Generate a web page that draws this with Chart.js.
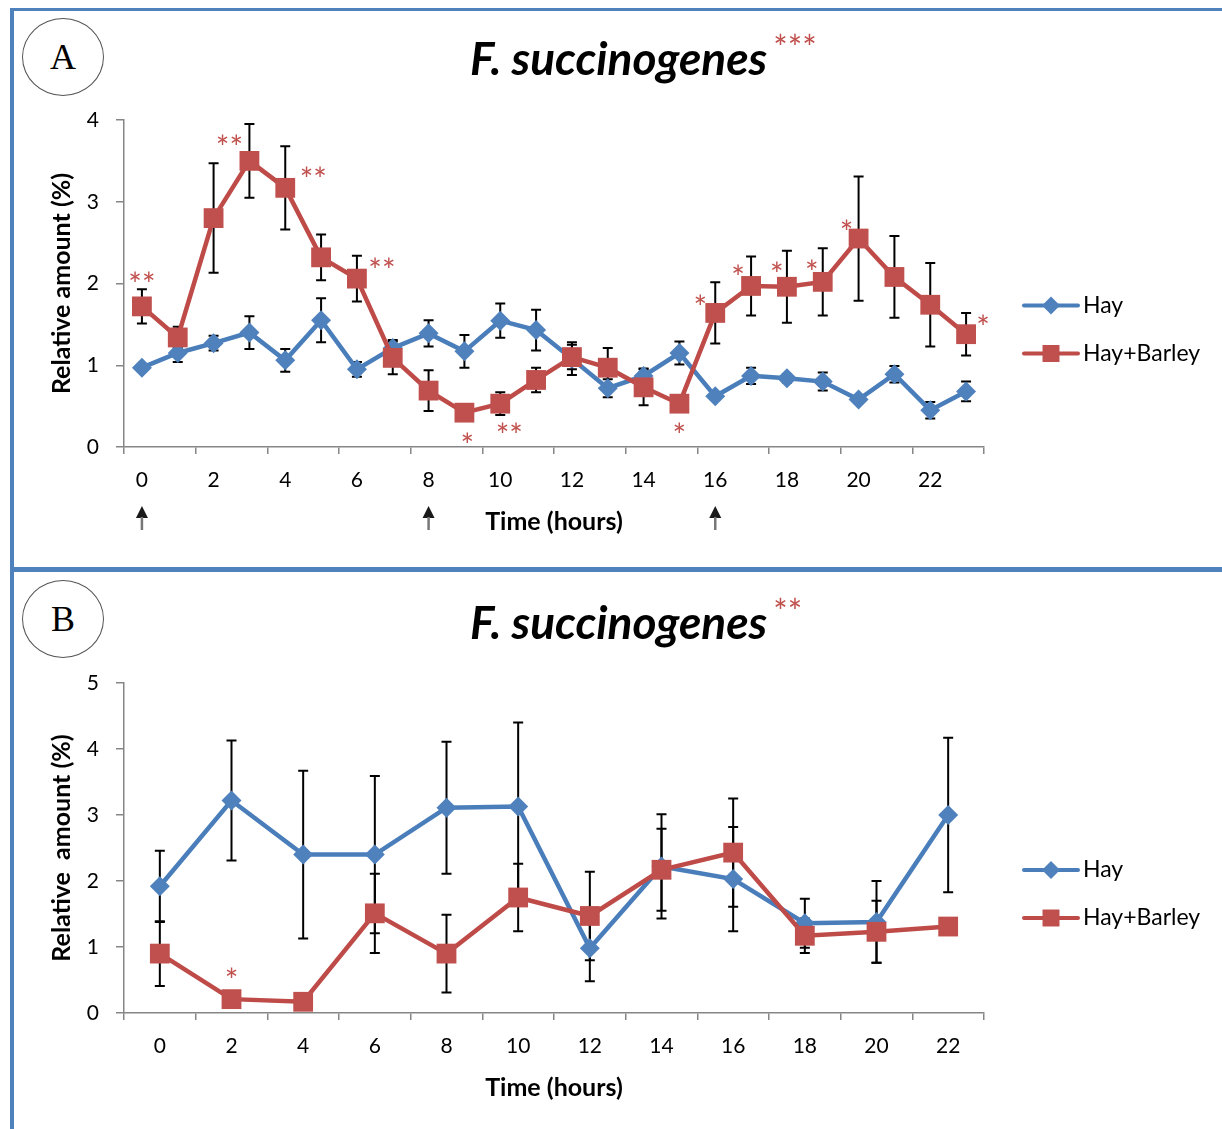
<!DOCTYPE html>
<html>
<head>
<meta charset="utf-8">
<title>F. succinogenes relative amount</title>
<script src="https://cdn.jsdelivr.net/npm/chart.js@4.4.1/dist/chart.umd.min.js"></script>
<style>
html,body{margin:0;padding:0;background:#fff;}
#page{position:relative;width:1222px;height:1129px;overflow:hidden;background:#fff;}
.frame-left{position:absolute;left:10px;top:8px;width:4px;height:1121px;background:#4f81bd;}
.frame-top{position:absolute;left:10px;top:8px;right:0;height:3px;background:#4f81bd;}
.frame-mid{position:absolute;left:10px;top:567px;right:0;height:5px;background:#4f81bd;}
.badge{position:absolute;left:22px;width:82px;height:78px;box-sizing:border-box;border:1.5px solid #555;border-radius:50%;
  font:36px "Liberation Serif",serif;color:#000;display:flex;align-items:center;justify-content:center;}
canvas{position:absolute;left:0;}
</style>
</head>
<body>
<div id="page">
  <div class="frame-left"></div>
  <div class="frame-top"></div>
  <div class="frame-mid"></div>
  <div class="badge" style="top:18px">A</div>
  <div class="badge" style="top:580px">B</div>
  <canvas id="chartA" width="1222" height="566" style="top:0"></canvas>
  <canvas id="chartB" width="1222" height="557" style="top:572px"></canvas>
</div>
<script>
// ---- panel A: hourly sampling, 0-23 h ----
const hoursA = [0,1,2,3,4,5,6,7,8,9,10,11,12,13,14,15,16,17,18,19,20,21,22,23];
const tickHoursA = [0,2,4,6,8,10,12,14,16,18,20,22];
const hayA = [0.97,1.15,1.27,1.40,1.06,1.55,0.95,1.21,1.39,1.17,1.545,1.43,1.08,0.72,0.87,1.15,0.62,0.87,0.84,0.80,0.58,0.89,0.45,0.68];
const hayErrA = [0.03,0.11,0.09,0.20,0.14,0.27,0.09,0.10,0.16,0.20,0.21,0.25,0.20,0.11,0.09,0.14,0.04,0.10,0.05,0.11,0.03,0.10,0.10,0.12];
const barleyA = [1.72,1.34,2.80,3.50,3.17,2.32,2.06,1.09,0.69,0.42,0.53,0.82,1.10,0.97,0.73,0.53,1.64,1.97,1.96,2.02,2.55,2.08,1.74,1.38];
const barleyErrA = [0.21,0.13,0.67,0.45,0.51,0.28,0.28,0.20,0.25,0.05,0.14,0.15,0.15,0.24,0.22,0.05,0.375,0.36,0.44,0.41,0.76,0.50,0.51,0.26];
const starsA = ['**','','','**','**','','**','','','*','**','','','','','*','*','*','*','*','*','','','*'];
const arrowHoursA = [0, 8, 16];

// ---- panel B: 2-hourly sampling ----
const hoursB = ['0','2','4','6','8','10','12','14','16','18','20','22'];
const hayB = [1.92,3.22,2.40,2.40,3.11,3.13,0.98,2.22,2.03,1.36,1.38,3.00];
const hayErrB = [0.54,0.91,1.27,1.19,1.00,1.27,0.50,0.79,0.79,0.37,0.62,1.17];
const barleyB = [0.90,0.21,0.17,1.51,0.90,1.75,1.47,2.17,2.43,1.17,1.23,1.31];
const barleyErrB = [0.49,0.04,0.04,0.60,0.59,0.51,0.67,0.62,0.82,0.26,0.47,0.03];
const starsB = ['','*','','','','','','','','','',''];

// where each significance mark sits relative to its point (px)
const starPosA = [[0,-30],null,null,[-20,-21],[28,-16],null,[25,-16],null,null,[3,25],[9,24],null,null,null,null,[0,24],[-15,-13],[-13,-16],[-10,-20],[-11,-17],[-12,-14],null,null,[17,-14]];
const starPosB = [null,[0,-26],null,null,null,null,null,null,null,null,null,null];

const BLUE = '#4a7ebb', BLUE_FILL = '#4f81bd';
const RED = '#be4b48', RED_FILL = '#c0504d';
const AXIS = '#868686';
const STAR_SIZE = 32;

Chart.defaults.font.family = 'Lato';
Chart.defaults.color = '#000';

function yVal(d){ return (d && typeof d === 'object') ? d.y : d; }

function drawMarker(ctx, style, x, y, r, color){
  ctx.fillStyle = color;
  ctx.beginPath();
  if(style === 'rectRot'){
    ctx.moveTo(x, y - r); ctx.lineTo(x + r, y); ctx.lineTo(x, y + r); ctx.lineTo(x - r, y);
  } else {
    const s = r * Math.SQRT1_2;
    ctx.rect(x - s, y - s, 2 * s, 2 * s);
  }
  ctx.closePath();
  ctx.fill();
}

// black +/- error bars, drawn underneath the lines and markers
const errorBars = {
  id: 'errorBars',
  beforeDatasetsDraw(chart){
    const ctx = chart.ctx, ys = chart.scales.y;
    ctx.save();
    ctx.strokeStyle = '#000';
    ctx.lineWidth = 2;
    chart.data.datasets.forEach((ds, di) => {
      const meta = chart.getDatasetMeta(di);
      (ds.errors || []).forEach((e, i) => {
        if(!e) return;
        const v = yVal(ds.data[i]);
        const x = meta.data[i].x;
        const t = ys.getPixelForValue(v + e), b = ys.getPixelForValue(v - e);
        ctx.beginPath();
        ctx.moveTo(x, t); ctx.lineTo(x, b);
        ctx.moveTo(x - 5, t); ctx.lineTo(x + 5, t);
        ctx.moveTo(x - 5, b); ctx.lineTo(x + 5, b);
        ctx.stroke();
      });
    });
    ctx.restore();
  }
};

// red asterisks next to the Hay+Barley points
const sigStars = {
  id: 'sigStars',
  afterDatasetsDraw(chart, args, opts){
    const ctx = chart.ctx;
    const meta = chart.getDatasetMeta(1);
    ctx.save();
    ctx.fillStyle = RED_FILL;
    ctx.font = STAR_SIZE + 'px Lato';
    ctx.textAlign = 'center';
    ctx.textBaseline = 'alphabetic';
    opts.marks.forEach((m, i) => {
      if(!m || !opts.pos[i]) return;
      const p = meta.data[i];
      ctx.fillText(m, p.x + opts.pos[i][0], p.y + opts.pos[i][1] + STAR_SIZE * 0.6);
    });
    ctx.restore();
  }
};

const panelTitle = {
  id: 'panelTitle',
  afterDraw(chart, args, opts){
    const ctx = chart.ctx;
    ctx.save();
    ctx.fillStyle = '#000';
    ctx.font = 'italic bold 46px Lato';
    ctx.textAlign = 'left';
    ctx.textBaseline = 'alphabetic';
    ctx.fillText(opts.text, opts.x, opts.y, opts.maxWidth);
    const w = Math.min(ctx.measureText(opts.text).width, opts.maxWidth);
    ctx.fillStyle = RED_FILL;
    ctx.font = '34px Lato';
    ctx.fillText(opts.stars, opts.x + w + 6, opts.y - 35 + 34 * 0.6);
    ctx.restore();
  }
};

// line + marker legend on the right of the plot
const sideLegend = {
  id: 'sideLegend',
  afterDraw(chart){
    const {ctx, chartArea} = chart;
    const mid = (chartArea.top + chartArea.bottom) / 2;
    ctx.save();
    ctx.font = '23px Lato';
    ctx.textBaseline = 'middle';
    ctx.textAlign = 'left';
    chart.data.datasets.forEach((ds, i) => {
      const y = mid + 22 + i * 48;
      const x0 = chartArea.right + 40, x1 = x0 + 54;
      ctx.strokeStyle = ds.borderColor;
      ctx.lineWidth = 4;
      ctx.lineCap = 'round';
      ctx.beginPath(); ctx.moveTo(x0, y); ctx.lineTo(x1, y); ctx.stroke();
      drawMarker(ctx, ds.pointStyle, (x0 + x1) / 2, y, ds.pointStyle === 'rect' ? 12 : 9, ds.pointBackgroundColor);
      ctx.fillStyle = '#000';
      ctx.fillText(ds.label, x1 + 5, y);
    });
    ctx.restore();
  }
};

// feeding arrows under the time axis
const feedArrows = {
  id: 'feedArrows',
  afterDraw(chart, args, opts){
    if(!opts.hours) return;
    const ctx = chart.ctx, xs = chart.scales.x;
    ctx.save();
    opts.hours.forEach(h => {
      const x = xs.getPixelForValue(h);
      ctx.fillStyle = '#1a1a1a';
      ctx.beginPath();
      ctx.moveTo(x, opts.top); ctx.lineTo(x + 6, opts.top + 12); ctx.lineTo(x - 6, opts.top + 12);
      ctx.closePath(); ctx.fill();
      ctx.strokeStyle = '#777';
      ctx.lineWidth = 2.5;
      ctx.beginPath(); ctx.moveTo(x, opts.top + 11); ctx.lineTo(x, opts.top + 24); ctx.stroke();
    });
    ctx.restore();
  }
};

function seriesSets(hay, hayErr, barley, barleyErr){
  return [
    {
      label: 'Hay', data: hay, errors: hayErr,
      borderColor: BLUE, borderWidth: 4.5,
      pointStyle: 'rectRot', pointRadius: 10, pointBorderWidth: 0,
      pointBackgroundColor: BLUE_FILL, pointBorderColor: BLUE_FILL,
      tension: 0, order: 1
    },
    {
      label: 'Hay+Barley', data: barley, errors: barleyErr,
      borderColor: RED, borderWidth: 4.5,
      pointStyle: 'rect', pointRadius: 14, pointBorderWidth: 0,
      pointBackgroundColor: RED_FILL, pointBorderColor: RED_FILL,
      tension: 0, order: 0
    }
  ];
}

function yAxis(max, title){
  return {
    min: 0, max: max,
    ticks: {stepSize: 1, padding: 17, font: {size: 21}, color: '#000'},
    grid: {drawOnChartArea: false, tickLength: 8, color: AXIS, lineWidth: 1.5},
    border: {color: AXIS, width: 1.5},
    title: {display: true, text: title, font: {size: 25, weight: 'bold'}, color: '#000', padding: 4},
    afterFit(s){ s.width = 81; }
  };
}

const timeTitle = {display: true, text: 'Time (hours)', font: {size: 25, weight: 'bold'}, color: '#000', padding: {top: 4, bottom: 4}};

// panel A
new Chart(document.getElementById('chartA'), {
  type: 'line',
  data: {
    datasets: seriesSets(
      hayA.map((v, i) => ({x: hoursA[i], y: v})), hayErrA,
      barleyA.map((v, i) => ({x: hoursA[i], y: v})), barleyErrA)
  },
  options: {
    responsive: false, animation: false,
    layout: {padding: {left: 43, top: 120, right: 238, bottom: 25}},
    plugins: {
      legend: {display: false}, tooltip: {enabled: false},
      sigStars: {marks: starsA, pos: starPosA},
      panelTitle: {text: 'F. succinogenes', stars: '***', x: 470, y: 75, maxWidth: 302},
      feedArrows: {hours: arrowHoursA, top: 506}
    },
    scales: {
      x: {
        type: 'linear', min: -0.5, max: 23.5,
        afterBuildTicks(s){ s.ticks = tickHoursA.map(h => h - 0.5).concat([23.5]).map(v => ({value: v})); },
        ticks: {autoSkip: false, maxRotation: 0, labelOffset: 17.9, padding: 14, font: {size: 21}, color: '#000',
          callback: v => v < 23 ? String(v + 0.5) : ''},
        grid: {drawOnChartArea: false, tickLength: 7, color: AXIS, lineWidth: 1.5},
        border: {color: AXIS, width: 1.5},
        title: timeTitle,
        afterFit(s){ s.height = 94; }
      },
      y: yAxis(4, 'Relative amount (%)')
    }
  },
  plugins: [errorBars, sigStars, panelTitle, sideLegend, feedArrows]
});

// panel B
new Chart(document.getElementById('chartB'), {
  type: 'line',
  data: {
    labels: hoursB,
    datasets: seriesSets(hayB, hayErrB, barleyB, barleyErrB)
  },
  options: {
    responsive: false, animation: false,
    layout: {padding: {left: 43, top: 111, right: 238, bottom: 22}},
    plugins: {
      legend: {display: false}, tooltip: {enabled: false},
      sigStars: {marks: starsB, pos: starPosB},
      panelTitle: {text: 'F. succinogenes', stars: '**', x: 470, y: 67, maxWidth: 302}
    },
    scales: {
      x: {
        type: 'category', offset: true,
        ticks: {autoSkip: false, maxRotation: 0, padding: 14, font: {size: 21}, color: '#000'},
        grid: {offset: true, drawOnChartArea: false, tickLength: 7, color: AXIS, lineWidth: 1.5},
        border: {color: AXIS, width: 1.5},
        title: timeTitle,
        afterFit(s){ s.height = 94; }
      },
      y: yAxis(5, 'Relative  amount (%)')
    }
  },
  plugins: [errorBars, sigStars, panelTitle, sideLegend]
});
</script>
</body>
</html>
